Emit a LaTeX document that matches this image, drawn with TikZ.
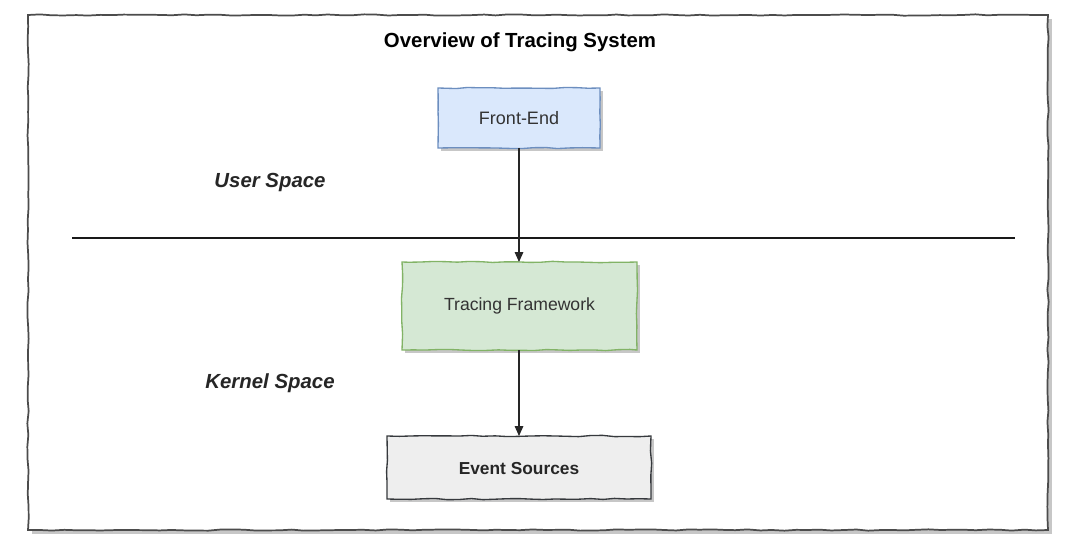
\documentclass[tikz,border=0pt]{standalone}
\usepackage{fontspec}
\setmainfont{Liberation Sans}
\usetikzlibrary{decorations.pathmorphing,arrows.meta,shadows}
\definecolor{blueFill}{HTML}{DAE8FC}
\definecolor{blueLine}{HTML}{6C8EBF}
\definecolor{greenFill}{HTML}{D5E8D4}
\definecolor{greenLine}{HTML}{82B366}
\definecolor{grayFill}{HTML}{EEEEEE}
\definecolor{grayLine}{HTML}{36393D}
\definecolor{txt}{HTML}{333333}
\tikzset{
  sketch/.style={decorate,decoration={random steps,segment length=9pt,amplitude=0.5pt}},
  boxshadow/.style={fill=black!22,draw=none},
  lbl/.style={font=\fontsize{15.3pt}{17pt}\selectfont\bfseries\itshape,text=black!85},
  conn/.style={-{Triangle[length=7.5pt,width=6.5pt]},line width=0.8pt,black!85},
}
\begin{document}
\begin{tikzpicture}[x=0.75pt,y=-0.75pt]
\pgfmathsetseed{7}
\useasboundingbox (0,0) rectangle (1080,549);
% outer frame
\fill[black!22] (32,19) rectangle (1052,534);
\fill[white] (28,15) rectangle (1048,530);
\draw[sketch,black!70,line width=1.3pt] (28,15) rectangle (1048,530);
% title
\node[font=\fontsize{15.3pt}{17pt}\selectfont\bfseries] (title) at (520,42) {Overview of Tracing System};
% shadows
\fill[boxshadow] (441,91) rectangle (603,151);
\fill[boxshadow] (405,265) rectangle (640,353);
\fill[boxshadow] (390,439) rectangle (654,502);
% boxes
\draw[sketch,fill=blueFill,draw=blueLine,line width=1pt] (438,88) rectangle (600,148);
\node[text=txt,font=\fontsize{13.5pt}{15pt}\selectfont] (fe) at (519,118) {Front-End};
\draw[sketch,fill=greenFill,draw=greenLine,line width=1pt] (402,262) rectangle (637,350);
\node[text=txt,font=\fontsize{13.2pt}{15pt}\selectfont] (tf) at (519.5,306) {Tracing Framework};
\draw[sketch,fill=grayFill,draw=grayLine,line width=1pt] (387,436) rectangle (651,499);
\node[text=black!85,font=\fontsize{13pt}{15pt}\selectfont\bfseries] (es) at (519,469) {Event Sources};
% connection points
\coordinate (feB) at (519,148);
\coordinate (tfT) at (519,262);
\coordinate (tfB) at (519,350);
\coordinate (esT) at (519,436);
% separator
\coordinate (sepL) at (72,238);
\coordinate (sepR) at (1015,238);
\draw[line width=1.6pt,black!90] (sepL) -- (sepR);
% arrows
\draw[conn] (feB) -- (tfT);
\draw[conn] (tfB) -- (esT);
% labels
\node[lbl] (us) at (270,182) {User Space};
\node[lbl] (ks) at (270,383) {Kernel Space};
\end{tikzpicture}
\end{document}
